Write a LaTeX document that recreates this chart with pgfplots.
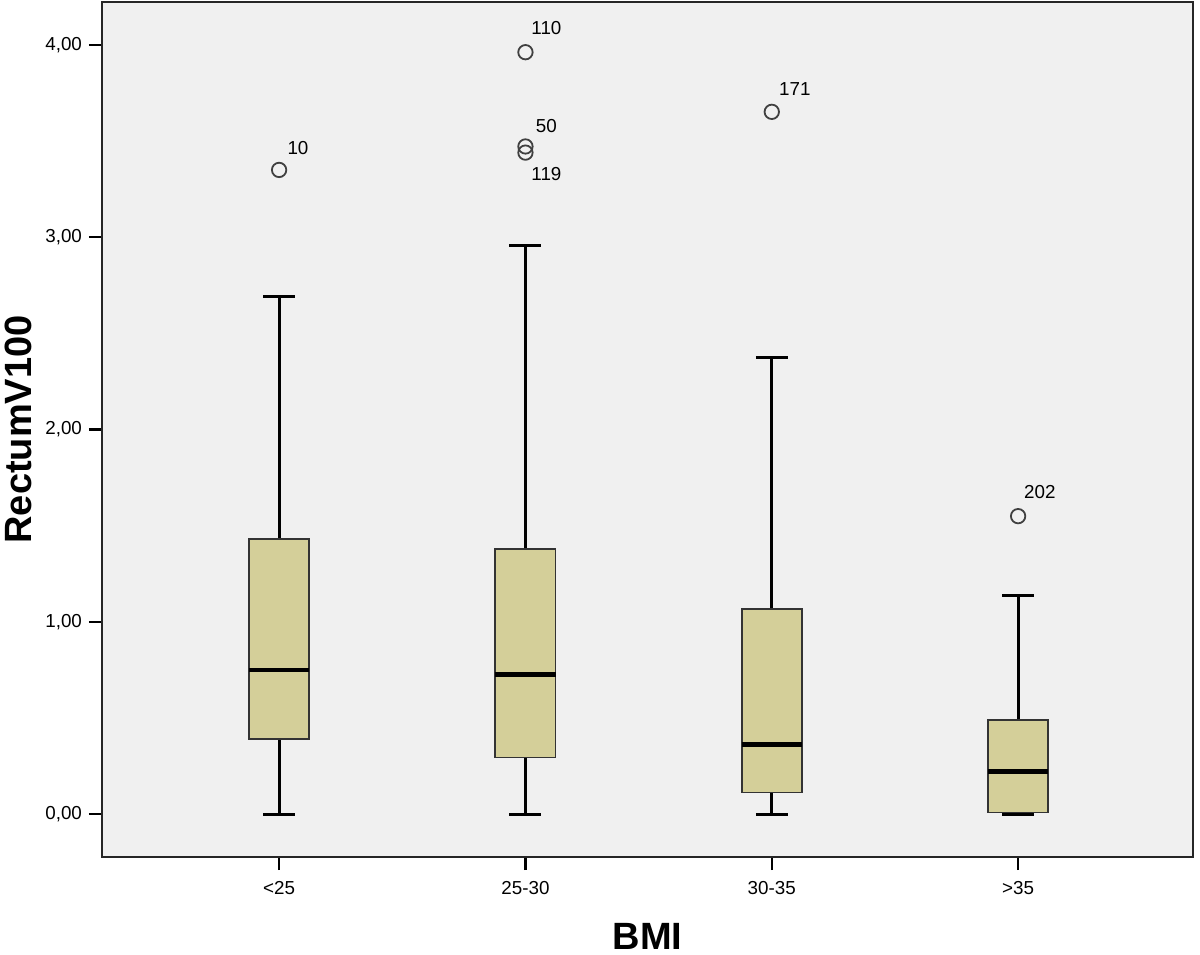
\documentclass[border=0pt]{standalone}
\usepackage{fontspec}
\setmainfont{Liberation Sans}
\usepackage{pgfplots}
\pgfplotsset{compat=1.18}
\usepgfplotslibrary{statistics}
\definecolor{bg}{HTML}{F0F0F0}
\definecolor{boxfill}{HTML}{D4CF99}
\begin{document}
\begin{tikzpicture}[x=1pt,y=1pt]
\useasboundingbox (-51,-48.6) rectangle (549,428.5);
\begin{axis}[
  at={(0,0)}, anchor=south west,
  scale only axis, width=545.5pt, height=427.5pt,
  xmin=0.281, xmax=4.71, ymin=-0.222, ymax=4.223,
  xtick={1,2,3,4}, xticklabels={<25,25-30,30-35,>35},
  ytick={0,1,2,3,4},
  xtick pos=left, ytick pos=left,
  tick align=outside, major tick length=6.5pt,
  every tick/.style={black, line width=1.1pt},
  major tick style={black, line width=1.1pt},
  axis line style={black!85, line width=1.1pt},
  axis background/.style={fill=bg},
  yticklabel style={/pgf/number format/.cd, fixed, fixed zerofill, precision=2, use comma, assume math mode=true},
  ticklabel style={font=\fontsize{9.4}{11}\selectfont},
  xticklabel style={yshift=-2pt},
  xlabel={BMI}, ylabel={RectumV100},
  every axis x label/.style={at={(axis description cs:0.5,-0.0925)}, anchor=center, inner sep=0pt},
  every axis y label/.style={at={(axis description cs:-0.077,0.5)}, rotate=90, anchor=center, inner sep=0pt},
  label style={font=\bfseries\fontsize{19}{22}\selectfont},
  boxplot/draw direction=y,
  boxplot/box extend=0.244,
  boxplot/whisker extend=0.13,
  boxplot/every box/.style={fill=boxfill, draw=black!80, line width=0.9pt},
  boxplot/every median/.style={black, line width=2.2pt},
  boxplot/every whisker/.style={black, line width=1.5pt},
  every axis plot/.append style={black, mark=o, mark size=3.6pt, mark options={line width=0.9pt, draw=black!75, fill=none}},
]
\addplot[boxplot prepared={draw position=1, lower whisker=0, lower quartile=0.393, median=0.750, upper quartile=1.432, upper whisker=2.69}]
  table[row sep=\\, y index=0] {y\\ 3.35\\};
\addplot[boxplot prepared={draw position=2, lower whisker=0, lower quartile=0.295, median=0.727, upper quartile=1.380, upper whisker=2.956}]
  table[row sep=\\, y index=0] {y\\ 3.962\\ 3.472\\ 3.44\\};
\addplot[boxplot prepared={draw position=3, lower whisker=0, lower quartile=0.113, median=0.362, upper quartile=1.069, upper whisker=2.374}]
  table[row sep=\\, y index=0] {y\\ 3.652\\};
\addplot[boxplot prepared={draw position=4, lower whisker=0, lower quartile=0.009, median=0.222, upper quartile=0.490, upper whisker=1.139}]
  table[row sep=\\, y index=0] {y\\ 1.550\\};
\begin{scope}[every node/.style={anchor=west, inner sep=0pt, font=\fontsize{9.4}{11}\selectfont}]
\node[xshift=4pt, yshift=10.8pt] at (axis cs:1,3.35) {10};
\node[xshift=2.8pt, yshift=12pt] at (axis cs:2,3.962) {110};
\node[xshift=5pt, yshift=10pt] at (axis cs:2,3.472) {50};
\node[xshift=2.8pt, yshift=-10.5pt] at (axis cs:2,3.44) {119};
\node[xshift=3.5pt, yshift=11.5pt] at (axis cs:3,3.652) {171};
\node[xshift=2.8pt, yshift=12.3pt] at (axis cs:4,1.550) {202};
\end{scope}
\end{axis}
\end{tikzpicture}
\end{document}
